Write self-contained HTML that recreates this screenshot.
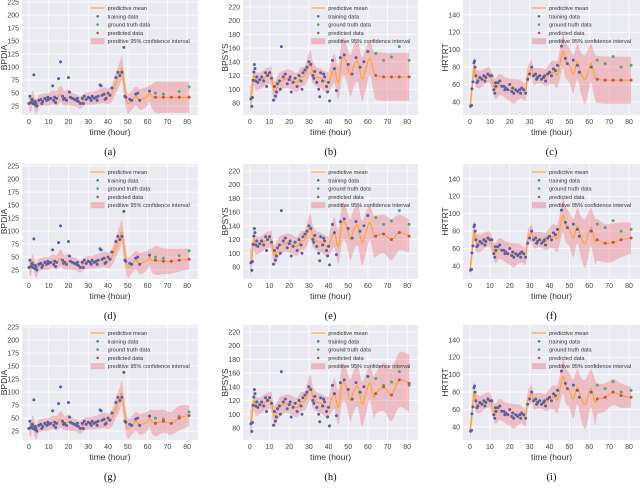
<!DOCTYPE html>
<html><head><meta charset="utf-8">
<style>
body{margin:0;background:#fff;width:640px;height:490px;overflow:hidden;font-family:"Liberation Sans",sans-serif}
svg text{font-family:"Liberation Sans",sans-serif}
.cap{font-family:"Liberation Serif",serif}
</style></head>
<body>
<svg id="fig" width="640" height="490" viewBox="0 0 640 490" xmlns="http://www.w3.org/2000/svg"></svg>
<script>
const xTicks=[0,10,20,30,40,50,60,70,80];
const yLabels=["BPDIA","BPSYS","HRTRT"];
const yTicks=[[25,50,75,100,125,150,175,200,225],[80,100,120,140,160,180,200,220],[40,60,80,100,120,140]];
const yDomains=[[8,229],[62.5,230],[25,157]];
const captions=["(a)","(b)","(c)","(d)","(e)","(f)","(g)","(h)","(i)"];
const trainBPDIA=[[0,30],[0.5,44],[1,32],[1.5,38],[2,30],[2.5,85],[3,28],[3.5,30],[4,25],[5,36],[6,38],[7,34],[8,40],[9,36],[10,38],[11,40],[12,64],[12.5,36],[13,42],[14,40],[15,78],[16,110],[17,44],[18,40],[19,36],[20,80],[20.5,52],[21,42],[22,40],[23,38],[24,36],[25,34],[26,30],[27,40],[28,44],[29,38],[30,42],[31,40],[32,44],[33,40],[34,42],[35,44],[36,66],[36.5,64],[37,46],[38,48],[39,40],[40,50],[41,46],[42,60],[44,80],[45,90],[46,84],[47,90],[48,138],[48.5,44],[49,42],[51,38],[52,36],[54,48],[55,50],[56,36],[61,54],[1.8,36],[3.2,34],[6.5,30],[9.5,42],[13.5,32],[17.5,38],[24.5,40],[27.5,30],[31.5,36],[34.5,36],[38.5,38]];
const trainBPSYS=[[0.5,86],[1,75],[1.3,88],[1.6,113],[2,125],[2.3,136],[2.6,130],[3,112],[4,110],[5,114],[6,118],[7,112],[8,124],[9,120],[10,124],[11,116],[12,84],[12.5,104],[13,90],[13.5,96],[14,108],[15,112],[16,162],[17,118],[18,122],[19,108],[20,114],[21,96],[22,110],[23,116],[24,104],[25,120],[26,112],[27,124],[28,128],[29,132],[30,140],[31,136],[32,120],[33,126],[34,110],[35,100],[35.5,89],[36,124],[37,112],[38,118],[39,104],[40,110],[40.5,83],[42,142],[43,130],[44,98],[46,146],[48,150],[50,136],[52,122],[54,146],[56,132],[58,140],[60,155],[3.5,118],[8.5,104],[15.5,100],[20.5,118],[26.5,100],[32.5,116],[37.5,122],[39.5,96]];
const trainHRTRT=[[0.3,35],[0.8,36],[1,55],[1.5,63],[2,85],[2.3,87],[2.6,80],[3,70],[4,64],[5,68],[6,66],[7,70],[8,68],[9,72],[10,70],[11,70],[12,54],[12.5,50],[13,58],[14,62],[15,64],[16,58],[17,58],[18,56],[19,54],[20,60],[21,52],[22,50],[23,54],[24,52],[25,54],[26,56],[27,54],[28,50],[29,66],[30,72],[31,80],[32,70],[33,72],[34,68],[35,70],[36,66],[37,68],[38,64],[39,72],[40,74],[41,70],[42,78],[43,76],[44,82],[46,104],[48,90],[49,84],[52,88],[54,82],[55,74],[61,80],[3.5,62],[7.5,64],[12.8,62],[17.5,54],[21.5,56],[25.5,50],[33.5,66],[37.5,70]];
const trainSets=[trainBPDIA,trainBPSYS,trainHRTRT];
const gtBPDIA=[[64,50],[68,48],[76,53],[81,62]];
const gtBPSYS=[[64,152],[68,142],[72,147],[76,162],[81,142]];
const gtHRTRT=[[64,88],[68,84],[72,92],[76,80],[81,82]];
const gtSets=[gtBPDIA,gtBPSYS,gtHRTRT];
const histBPDIA=[[0,32,15],[1,30,16],[2,42,14],[3,28,14],[4,25,14],[5,35,12],[6,36,12],[8,38,12],[10,38,12],[12,42,13],[14,40,14],[16,48,16],[18,40,14],[20,42,15],[22,38,13],[24,36,12],[26,32,12],[28,38,12],[30,40,12],[32,40,12],[34,42,13],[36,44,14],[38,46,15],[40,44,15],[42,50,16],[44,70,20],[46,88,22],[47,98,24],[48,70,24],[49,45,22],[50,30,20],[52,36,18],[54,44,18],[56,38,20],[58,40,20],[60,44,18],[61,50,16],[62,44,22]];
const histBPSYS=[[0,85,20],[1,95,18],[2,120,15],[3,112,14],[5,112,12],[8,118,12],[10,120,12],[11,118,14],[12,100,15],[13,98,15],[15,110,14],[18,115,13],[20,115,14],[22,112,14],[24,110,14],[26,118,14],[28,120,14],[30,135,18],[31,138,18],[32,125,16],[34,118,14],[36,116,14],[38,112,15],[40,110,15],[41,118,18],[43,130,22],[45,110,25],[47,145,28],[49,140,26],[51,120,30],[53,135,30],[55,140,30],[57,115,32],[59,130,30],[61,145,25],[63,125,30]];
const histHRTRT=[[0,35,10],[1,55,12],[2,80,12],[3,68,11],[5,66,10],[8,70,9],[10,70,9],[12,58,10],[13,55,12],[15,60,12],[18,56,12],[20,54,13],[22,52,14],[24,54,12],[26,54,10],[28,52,10],[29,70,10],[31,78,10],[32,70,10],[34,70,9],[36,70,9],[38,68,10],[40,72,12],[42,74,14],[44,72,16],[46,92,18],[47,98,20],[48,88,20],[50,82,20],[52,72,22],[54,86,20],[56,72,24],[58,66,28],[60,80,24],[61,84,22],[63,68,26]];
const histSets=[histBPDIA,histBPSYS,histHRTRT];
const fcBPDIA=[[[64,42,30],[68,42,30],[72,42,30],[76,42,30],[81,42,30]],[[64,44,28],[68,42,25],[72,42,24],[76,44,22],[81,46,20]],[[64,40,25],[68,44,22],[72,40,22],[76,50,24],[81,55,20]]];
const fcBPSYS=[[[64,120,35],[68,118,35],[72,118,35],[76,118,35],[81,118,35]],[[64,125,30],[68,128,28],[72,120,30],[76,130,26],[81,125,24]],[[64,130,30],[68,140,35],[72,128,38],[76,150,40],[81,145,42]]];
const fcHRTRT=[[[64,66,27],[68,65,27],[72,65,27],[76,65,27],[81,65,27]],[[64,70,24],[68,66,22],[72,67,22],[76,70,20],[81,72,18]],[[64,72,18],[68,74,16],[72,80,15],[76,76,14],[81,74,12]]];
const fcSets=[fcBPDIA,fcBPSYS,fcHRTRT];

const NS="http://www.w3.org/2000/svg";
const fig=document.getElementById('fig');
function mk(tag,attrs,parent){const e=document.createElementNS(NS,tag);for(const k in attrs)e.setAttribute(k,attrs[k]);(parent||fig).appendChild(e);return e;}
function smooth(P){ // catmull-rom -> bezier
  let d='';
  for(let i=0;i<P.length-1;i++){
    const p0=P[Math.max(0,i-1)],p1=P[i],p2=P[i+1],p3=P[Math.min(P.length-1,i+2)];
    const c1=[p1[0]+(p2[0]-p0[0])/6,p1[1]+(p2[1]-p0[1])/6];
    const c2=[p2[0]-(p3[0]-p1[0])/6,p2[1]-(p3[1]-p1[1])/6];
    d+='C'+c1[0]+','+c1[1]+' '+c2[0]+','+c2[1]+' '+p2[0]+','+p2[1];
  }
  return d;
}
const colX=[[22,176],[243,175],[463,177]];
const rowY=[0,164,325];
const xDom=[-3.5,85.5];
for(let r=0;r<3;r++)for(let c=0;c<3;c++){
  const [ax,aw]=colX[c],ay=rowY[r],ah=115;
  const yd=yDomains[c];
  const X=t=>ax+(t-xDom[0])/(xDom[1]-xDom[0])*aw;
  const Y=v=>ay+ah-(v-yd[0])/(yd[1]-yd[0])*ah;
  const g=mk('g',{});
  
  
  const bg=mk('rect',{x:ax,y:ay,width:aw,height:ah,fill:'#eaeaf2'},g);
  
  
  xTicks.forEach(t=>{mk('line',{x1:X(t),x2:X(t),y1:ay,y2:ay+ah,stroke:'#fff','stroke-width':0.8},g);
    const tx=mk('text',{x:X(t),y:ay+ah+9,'font-size':7,'text-anchor':'middle',fill:'#444'},g);tx.textContent=t;
    });
  yTicks[c].forEach(v=>{mk('line',{x1:ax,x2:ax+aw,y1:Y(v),y2:Y(v),stroke:'#fff','stroke-width':0.8},g);
    const tx=mk('text',{x:ax-3,y:Y(v)+2.5,'font-size':7,'text-anchor':'end',fill:'#444'},g);tx.textContent=v;
    });
  const pts=histSets[c].concat(fcSets[c][r]);
  const up=pts.map(p=>[X(p[0]),Y(p[1]+p[2])]);
  const lo=pts.map(p=>[X(p[0]),Y(p[1]-p[2])]).reverse();
  const mid=pts.map(p=>[X(p[0]),Y(p[1])]);
  const d='M'+up[0][0]+','+up[0][1]+smooth(up)+'L'+lo[0][0]+','+lo[0][1]+smooth(lo)+'Z';
  const cp=mk('clipPath',{id:'cp'+r+c},g);mk('rect',{x:ax,y:ay,width:aw,height:ah},cp);
  const band=mk('path',{d:d,fill:'rgba(240,120,130,0.4)','clip-path':'url(#cp'+r+c+')'},g);
  
  const line=mk('path',{d:'M'+mid[0][0]+','+mid[0][1]+smooth(mid),fill:'none',stroke:'#ffa31a','stroke-width':1.1,'clip-path':'url(#cp'+r+c+')'},g);
  
  trainSets[c].forEach(p=>{const e=mk('circle',{cx:X(p[0]),cy:Y(p[1]),r:1.5,fill:'#5560a8'},g);
    });
  gtSets[c].forEach(p=>{const e=mk('circle',{cx:X(p[0]),cy:Y(p[1]),r:1.5,fill:'#55a868'},g);
    });
  fcSets[c][r].forEach(p=>{const e=mk('circle',{cx:X(p[0]),cy:Y(p[1]),r:1.5,fill:'#c44e52'},g);
    });
  const lx=ax+aw*0.39,ly=ay+8;
  const leg=mk('g',{},g);
  const items=[['line','#ffa31a','predictive mean'],['dot','#4c72b0','training data'],['dot','#55a868','ground truth data'],['dot','#c44e52','predicted data'],['band','rgba(240,120,130,0.45)','preditive 95% confidence interval']];
  items.forEach((it,i)=>{const yy=ly+i*8.3;
    if(it[0]=='line')mk('line',{x1:lx,x2:lx+14,y1:yy,y2:yy,stroke:it[1],'stroke-width':1.1},leg);
    else if(it[0]=='dot')mk('circle',{cx:lx+7,cy:yy,r:1.3,fill:it[1]},leg);
    else mk('rect',{x:lx,y:yy-3,width:14,height:6,fill:it[1]},leg);
    const tx=mk('text',{x:lx+17,y:yy+2,'font-size':5.6,fill:'#333'},leg);tx.textContent=it[2];
    });
  const xl=mk('text',{x:ax+aw/2,y:ay+ah+20,'font-size':8.5,'text-anchor':'middle',fill:'#333'},g);xl.textContent='time (hour)';
  
  const yl=mk('text',{x:0,y:0,'font-size':8.5,'text-anchor':'middle',fill:'#333',transform:'translate('+(ax-15)+','+(ay+ah/2)+') rotate(-90)'},g);yl.textContent=yLabels[c];
  
  const cap=mk('text',{x:ax+aw/2,y:ay+155,'font-size':10.5,'text-anchor':'middle',fill:'#111','class':'cap'},g);cap.textContent=captions[r*3+c];
  
}
</script>
</body></html>
